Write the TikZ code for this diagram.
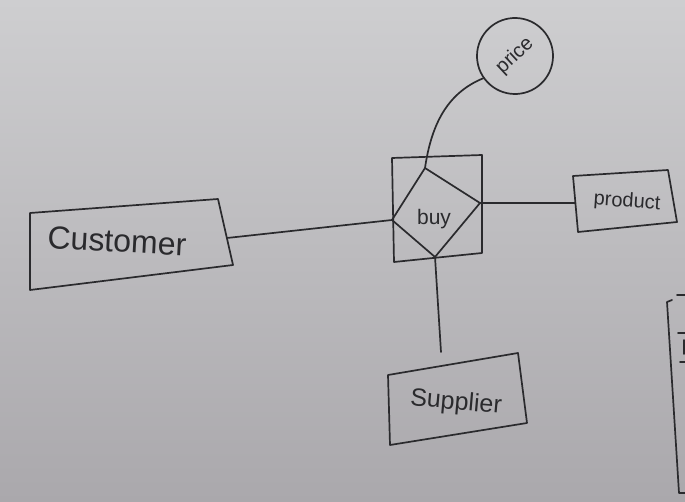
\documentclass[tikz,border=0pt]{standalone}
\usepackage{fontspec}
\setmainfont{Liberation Sans}
\definecolor{ink}{RGB}{42,42,45}
\definecolor{bgtop}{RGB}{206,206,208}
\definecolor{bgbot}{RGB}{170,168,172}
\begin{document}
\begin{tikzpicture}[x=1pt,y=-1pt,
  pen/.style={draw=ink, line width=1.7pt, line join=round, line cap=round},
  lbl/.style={text=ink, inner sep=0pt}]
\shade[top color=bgtop, bottom color=bgbot] (0,0) rectangle (685,502);
\useasboundingbox (0,0) rectangle (685,502);
% Customer entity
\coordinate (c1) at (30,213); \coordinate (c2) at (218,199);
\coordinate (c3) at (233,265); \coordinate (c4) at (30,290);
\coordinate (cR) at (227,238);
\draw[pen] (c1)--(c2)--(c3)--(c4)--cycle;
\node[lbl, font=\fontsize{32}{32}\selectfont, rotate=-3] (customer) at (117,241) {Customer};
% buy relationship (weak: diamond in box)
\coordinate (b1) at (392,158); \coordinate (b2) at (482,155);
\coordinate (b3) at (482,253); \coordinate (b4) at (394,262);
\draw[pen] (b1)--(b2)--(b3)--(b4)--cycle;
\coordinate (dT) at (425,168); \coordinate (dR) at (480,203);
\coordinate (dB) at (435,257); \coordinate (dL) at (392,220);
\draw[pen] (dT)--(dR)--(dB)--(dL)--cycle;
\node[lbl, font=\fontsize{21}{21}\selectfont] (buy) at (434,219) {buy};
% price attribute
\node[pen, circle, minimum size=76pt, inner sep=0pt, text=ink, rotate=43,
  font=\fontsize{20}{20}\selectfont] (price) at (515,56) {price};
\draw[pen] (dT) .. controls (432,120) and (450,92) .. (price.172);
% product entity
\coordinate (p1) at (573,176); \coordinate (p2) at (668,170);
\coordinate (p3) at (677,222); \coordinate (p4) at (578,232);
\coordinate (pL) at (575,203);
\draw[pen] (p1)--(p2)--(p3)--(p4)--cycle;
\node[lbl, font=\fontsize{20}{20}\selectfont, rotate=-4] (product) at (627,202) {product};
% supplier entity
\coordinate (s1) at (388,375); \coordinate (s2) at (518,353);
\coordinate (s3) at (527,423); \coordinate (s4) at (390,445);
\coordinate (sT) at (441,352);
\draw[pen] (s1)--(s2)--(s3)--(s4)--cycle;
\node[lbl, font=\fontsize{25}{25}\selectfont, rotate=-5] (supplier) at (456,403) {Supplier};
% connectors
\draw[pen] (cR) -- (dL);
\draw[pen] (dR) -- (pL);
\draw[pen] (dB) -- (sT);
% partial drawing at the right edge
\coordinate (e1) at (672,300); \coordinate (e2) at (667,302);
\coordinate (e3) at (679,493); \coordinate (e4) at (685,493);
\draw[pen] (e1)--(e2)--(e3)--(e4);
\coordinate (t1) at (677,295); \coordinate (t2) at (685,295);
\coordinate (t3) at (678,333); \coordinate (t4) at (685,333);
\coordinate (t5) at (680,362); \coordinate (t6) at (685,362);
\coordinate (t7) at (684,340); \coordinate (t8) at (684,354);
\draw[pen] (t1)--(t2) (t3)--(t4) (t5)--(t6) (t7)--(t8);
\end{tikzpicture}
\end{document}
